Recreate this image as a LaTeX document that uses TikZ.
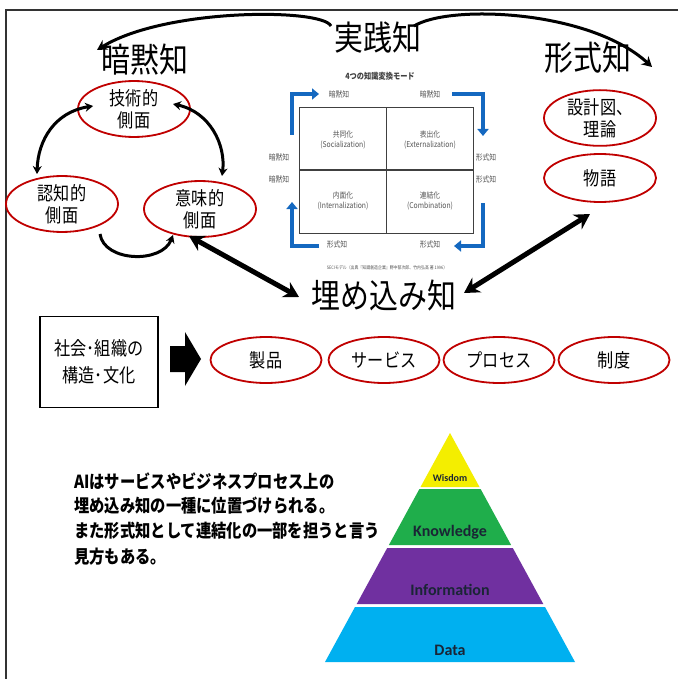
\documentclass[tikz,border=0pt]{standalone}
\usepackage{fontspec}
\usetikzlibrary{shapes.geometric,arrows.meta}
\newfontfamily\jp[FakeStretch=0.85]{Noto Sans CJK JP}
\newfontfamily\pyr{Carlito}
\definecolor{ered}{HTML}{C00000}
\definecolor{sblue}{HTML}{1468C0}
\definecolor{sgray}{HTML}{555555}
\definecolor{pyel}{HTML}{F4EE00}
\definecolor{pgrn}{HTML}{1FAE4B}
\definecolor{ppur}{HTML}{7030A0}
\definecolor{pblu}{HTML}{00B0F0}
\definecolor{ptxt}{HTML}{1A2535}
\tikzset{
  elly/.style={ellipse, draw=ered, line width=1.8pt, minimum width=112pt, minimum height=48pt, inner sep=0pt, align=center, font=\jp\fontsize{19}{22}\selectfont},
  bigt/.style={font=\jp\fontsize{34}{36}\selectfont, inner sep=0pt},
  seci/.style={text=sgray, font=\jp\fontsize{8}{10}\selectfont, inner sep=0pt, align=center},
  blk/.style={line width=3pt, black},
  dbl/.style={line width=5pt, {Stealth[length=15pt,width=17pt]}-{Stealth[length=15pt,width=17pt]}},
  barr/.style={sblue, line width=4.5pt, -{Triangle[length=7pt,width=11pt]}},
  plab/.style={text=ptxt, font=\pyr\bfseries, inner sep=0pt},
  para/.style={font=\jp\bfseries\fontsize{18}{20}\selectfont, anchor=west, inner sep=0pt}
}
\begin{document}
\begin{tikzpicture}[x=1pt,y=-1pt]
\useasboundingbox (0,0) rectangle (678,679);
\fill[white] (0,0) rectangle (678,679);
% frame
\draw[line width=1.3pt, black!80] (678,10) -- (6,10) -- (6,679);

% titles
\node[bigt] (anmoku) at (145,60) {暗黙知};
\node[bigt] (jissen) at (378,38) {実践知};
\node[bigt] (keishiki) at (588,58) {形式知};
\node[bigt] (ume) at (384,296) {埋め込み知};

% top arcs
\draw[blk, -{Stealth[length=10pt,width=11pt]}] (331,26) .. controls (322,8) and (165,8) .. (97,50);
\draw[blk, -{Stealth[length=10pt,width=11pt]}] (414,26) .. controls (450,4) and (590,10) .. (652,67);

% tacit ellipses
\node[elly] (gijutsu) at (134,109) {技術的\\側面};
\node[elly] (ninchi) at (62,204) {認知的\\側面};
\node[elly] (imi) at (200,209) {意味的\\側面};

% cycle arrows
\draw[blk, {Stealth[length=8pt,width=9pt]}-{Stealth[length=8pt,width=9pt]}] (gijutsu.west)+(16,-3) .. controls (55,112) and (38,140) .. (37,174);
\draw[blk, {Stealth[length=8pt,width=9pt]}-{Stealth[length=8pt,width=9pt]}] (173,104) .. controls (210,112) and (226,145) .. (222,176);
\draw[blk, -{Stealth[length=8pt,width=9pt]}] (100,234) .. controls (104,262) and (162,264) .. (173,235);

% explicit ellipses
\node[elly] (sekkei) at (600,118) {設計図、\\理論};
\node[elly] (monogatari) at (600,178) {物語};

% double arrows
\coordinate (d1a) at (189,236);
\coordinate (d1b) at (299,297);
\draw[dbl] (d1a) -- (d1b);
\coordinate (d2a) at (464,293);
\coordinate (d2b) at (590,214);
\draw[dbl] (d2a) -- (d2b);

% SECI figure
\node[text=black!75, font=\jp\bfseries\fontsize{8.5}{10}\selectfont, inner sep=0pt] (stitle) at (380,76) {4つの知識変換モード};
\draw[black!75, line width=1pt] (299,108) rectangle (473,233);
\draw[black!75, line width=1pt] (386,108) -- (386,233) (299,170) -- (473,170);
\node[seci] (soc) at (343,140) {共同化\\(Socialization)};
\node[seci] (ext) at (430,140) {表出化\\(Externalization)};
\node[seci] (int) at (343,201) {内面化\\(Internalization)};
\node[seci] (com) at (430,201) {連結化\\(Combination)};
\node[seci] (l1) at (339,94) {暗黙知};
\node[seci] (l2) at (430,94) {暗黙知};
\node[seci] (l3) at (279,157) {暗黙知};
\node[seci] (l4) at (279,179) {暗黙知};
\node[seci] (l5) at (486,157) {形式知};
\node[seci] (l6) at (486,179) {形式知};
\node[seci] (l7) at (337,244) {形式知};
\node[seci] (l8) at (430,244) {形式知};
\draw[barr] (292,135) -- (292,94) -- (319,94);
\draw[barr] (452,94) -- (483,94) -- (483,136);
\draw[barr] (483,203) -- (483,246) -- (454,246);
\draw[barr] (319,246) -- (292,246) -- (292,202);
\node[seci, font=\jp\fontsize{4.6}{5}\selectfont] (cap) at (387,268) {SECIモデル（出典『知識創造企業』野中郁次郎、竹内弘高 著 1996）};

% society box and block arrow
\node[draw, line width=1.8pt, minimum width=118pt, minimum height=91pt, align=center, inner sep=0pt, font=\jp\fontsize{19}{27}\selectfont] (soshiki) at (99,362) {社会･組織の\\構造･文化};
\fill[black] (170,346) -- (185,346) -- (185,332) -- (201,359) -- (185,386) -- (185,372) -- (170,372) -- cycle;

% row ellipses
\node[elly, minimum width=111pt, minimum height=46pt] (seihin) at (266,360) {製品};
\node[elly, minimum width=111pt, minimum height=46pt] (service) at (384,360) {サービス};
\node[elly, minimum width=111pt, minimum height=46pt] (process) at (499,360) {プロセス};
\node[elly, minimum width=111pt, minimum height=46pt] (seido) at (614,360) {制度};

% paragraph
\node[para] (p1) at (74,481) {AIはサービスやビジネスプロセス上の};
\node[para] (p2) at (74,506) {埋め込み知の一種に位置づけられる。};
\node[para] (p3) at (74,531) {また形式知として連結化の一部を担うと言う};
\node[para] (p4) at (74,557) {見方もある。};

% pyramid
\fill[pyel] (450,433) -- (479.5,487) -- (420.5,487) -- cycle;
\fill[pgrn] (419.4,489) -- (480.6,489) -- (511.1,545) -- (388.9,545) -- cycle;
\fill[ppur] (387.2,548) -- (512.8,548) -- (543.3,604) -- (356.7,604) -- cycle;
\fill[pblu] (355,607) -- (545,607) -- (575,662) -- (325,662) -- cycle;
\node[plab, font=\pyr\bfseries\fontsize{10}{12}\selectfont] (wis) at (450,478) {Wisdom};
\node[plab, font=\pyr\bfseries\fontsize{16}{18}\selectfont] (kno) at (450,532) {Knowledge};
\node[plab, font=\pyr\bfseries\fontsize{16}{18}\selectfont] (inf) at (450,590) {Information};
\node[plab, font=\pyr\bfseries\fontsize{16}{18}\selectfont] (dat) at (450,650) {Data};
\end{tikzpicture}
\end{document}
